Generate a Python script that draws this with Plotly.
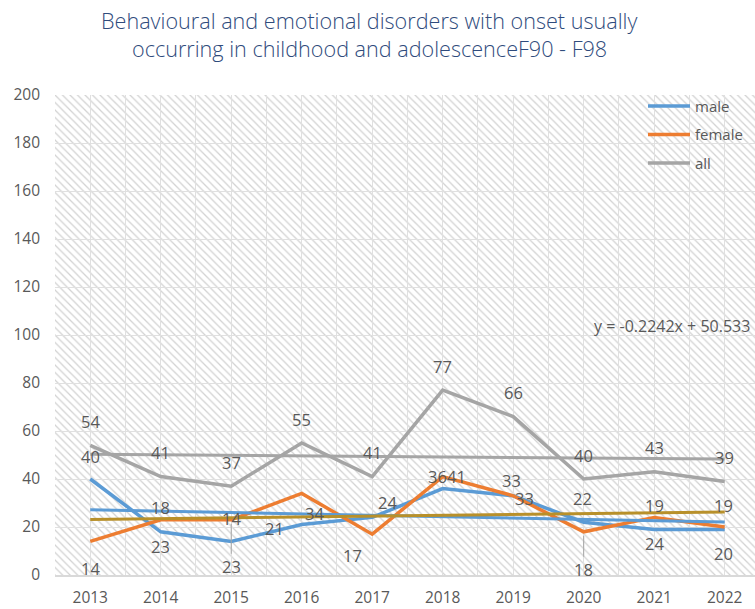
import base64
import numpy as np
import plotly.graph_objects as go

# ---------------- data ----------------
years = [2013, 2014, 2015, 2016, 2017, 2018, 2019, 2020, 2021, 2022]
male = [40, 18, 14, 21, 24, 36, 33, 22, 19, 19]
female = [14, 23, 23, 34, 17, 41, 33, 18, 24, 20]
all_ = [54, 41, 37, 55, 41, 77, 66, 40, 43, 39]
title_lines = ["Behavioural and emotional disorders with onset usually",
               "occurring in childhood and adolescenceF90 - F98"]

# ---------------- style ----------------
C_MALE = "#5B9BD5"
C_FEMALE = "#ED7D31"
C_ALL = "#A5A5A5"
C_FTREND = "#B8902A"
TXT = "#595959"
GRID = "#E0E0E0"
FONT = "Open Sans"

# label offsets (px) : (xshift, yshift[up positive]) ; "lead" => leader line, ay in px
male_off = [(0, 23), (0, 24), (0, 23), (-27, -4), (15, 15), (-5, 12), (-2, 15), (-1, 24), (0, 24), (-1, 24)]
female_off = [(0, -27), (0, -27), ("lead", 47), (13, -20), (-20, -21), (14, 0), (11, -3), ("lead", 38), (0, -26), (-1, -26)]
all_off = [(0, 24)] * 10

fig = go.Figure()

# hatched plot background (Excel-like pattern fill)
svg = ('<svg xmlns="http://www.w3.org/2000/svg" width="700" height="480">'
       '<defs><pattern id="p" width="7.5" height="7.5" patternUnits="userSpaceOnUse">'
       '<path d="M-2,-2L9.5,9.5M-2,5.5L2,9.5M5.5,-2L9.5,2" stroke="#D2D2D2" stroke-width="1.3"/>'
       '</pattern></defs><rect width="100%" height="100%" fill="url(#p)"/></svg>')
src = "data:image/svg+xml;base64," + base64.b64encode(svg.encode()).decode()

fig.add_trace(go.Scatter(x=years, y=male, name="male", mode="lines",
                         line=dict(color=C_MALE, width=3.5), legendgroup="m"))
fig.add_trace(go.Scatter(x=years, y=female, name="female", mode="lines",
                         line=dict(color=C_FEMALE, width=3.5), legendgroup="f"))
fig.add_trace(go.Scatter(x=years, y=all_, name="all", mode="lines",
                         line=dict(color=C_ALL, width=3.5), legendgroup="a"))

# linear trendlines (fit on x = 1..n like Excel)
xi = np.arange(1, len(years) + 1)
trend = {}
for key, vals, col in [("male", male, C_MALE), ("female", female, C_FTREND), ("all", all_, C_ALL)]:
    k, b = np.polyfit(xi, vals, 1)
    trend[key] = (k, b)
    fig.add_trace(go.Scatter(x=years, y=k * xi + b, mode="lines", showlegend=False,
                             line=dict(color=col, width=3), hoverinfo="skip"))

annos = []
for vals, offs in [(male, male_off), (female, female_off), (all_, all_off)]:
    for x, v, (dx, dy) in zip(years, vals, offs):
        if dx == "lead":
            annos.append(dict(x=x, y=v, text=str(v), showarrow=True, ax=0, ay=dy,
                              arrowhead=0, arrowwidth=1, arrowcolor="#A6A6A6", standoff=4,
                              font=dict(family=FONT, size=16.5, color=TXT)))
        else:
            annos.append(dict(x=x, y=v, text=str(v), showarrow=False, xshift=dx, yshift=dy,
                              font=dict(family=FONT, size=16.5, color=TXT)))

k, b = trend["all"]
annos.append(dict(xref="paper", x=0.995, y=103.8, xanchor="right", yanchor="middle", showarrow=False,
                  text=f"y = {k:.4f}x + {b:.3f}",
                  font=dict(family=FONT, size=16, color=TXT)))

annos.append(dict(xref="paper", yref="paper", x=0.4486, y=1.15625, xanchor="center", yanchor="middle",
                  showarrow=False, text=title_lines[0],
                  font=dict(family=FONT, size=21.6, color="#2F4B7C", weight=300)))
annos.append(dict(xref="paper", yref="paper", x=0.4486, y=1.0979, xanchor="center", yanchor="middle",
                  showarrow=False, text=title_lines[1],
                  font=dict(family=FONT, size=21.6, color="#2F4B7C", weight=300)))

fig.update_layout(
    width=755, height=609,
    margin=dict(l=55, r=0, t=95, b=34),
    paper_bgcolor="white", plot_bgcolor="rgba(0,0,0,0)",
    images=[dict(source=src, xref="paper", yref="paper", x=0, y=1, sizex=1, sizey=1,
                 sizing="stretch", layer="below")],
    annotations=annos,
    showlegend=True,
    legend=dict(x=0.84, y=1.011, xanchor="left", yanchor="top", bgcolor="rgba(0,0,0,0)",
                font=dict(family=FONT, size=15, color=TXT), tracegroupgap=6, itemwidth=42),
    xaxis=dict(range=[2012.5, 2022.43], tickvals=years, ticktext=[str(y) for y in years],
               showgrid=True, gridcolor=GRID, gridwidth=1,
               minor=dict(tick0=2012.5, dtick=1, showgrid=True, gridcolor=GRID, gridwidth=1),
               zeroline=False, showline=True, linecolor="#D9D9D9", linewidth=1.5,
               tickfont=dict(family=FONT, size=15.5, color=TXT), ticks="", ticklabelstandoff=8),
    yaxis=dict(range=[0, 200], dtick=20, showgrid=True, gridcolor=GRID, gridwidth=1,
               zeroline=False, showline=False,
               tickfont=dict(family=FONT, size=15.5, color=TXT), ticks="", ticklabelstandoff=14),
)

fig.write_html("out.html", config={"displayModeBar": False},
               post_script="document.body.style.margin='0';document.body.style.overflow='hidden';")
